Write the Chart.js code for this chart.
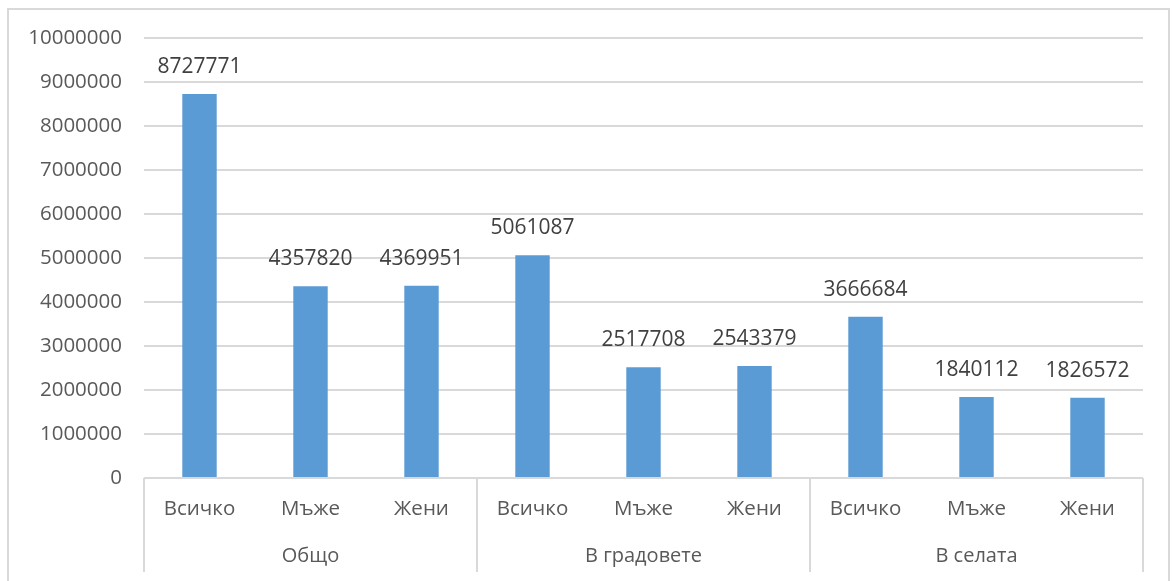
<!DOCTYPE html>
<html>
<head>
<meta charset="utf-8">
<script src="https://cdn.jsdelivr.net/npm/chart.js@4"></script>
<style>
  html, body { margin: 0; padding: 0; background: #fff; }
  #wrap { position: relative; width: 1173px; height: 581px; }
  #frame {
    position: absolute; left: 7px; top: 8px; width: 1163px; height: 580px;
    border: 2px solid #d9d9d9; border-bottom: none; box-sizing: border-box;
  }
  canvas { position: absolute; left: 0; top: 0; }
</style>
</head>
<body>
<div id="wrap">
  <div id="frame"></div>
  <canvas id="chart" width="1173" height="581"></canvas>
</div>
<script>
const groups = ["Общо", "В градовете", "В селата"];
const subLabels = ["Всичко", "Мъже", "Жени", "Всичко", "Мъже", "Жени", "Всичко", "Мъже", "Жени"];
const values = [8727771, 4357820, 4369951, 5061087, 2517708, 2543379, 3666684, 1840112, 1826572];
const yMax = 10000000;
const yStep = 1000000;

const FONT = "'Open Sans', 'Liberation Sans', sans-serif";
const GRID = "#d9d9d9";

// value labels above the bars
const valueLabels = {
  id: "valueLabels",
  afterDatasetsDraw(chart) {
    const ctx = chart.ctx;
    const meta = chart.getDatasetMeta(0);
    ctx.save();
    ctx.font = "21px " + FONT;
    ctx.fillStyle = "#404040";
    ctx.textAlign = "center";
    ctx.textBaseline = "middle";
    meta.data.forEach((bar, i) => {
      ctx.fillText(String(values[i]), bar.x, bar.y - 27);
    });
    ctx.restore();
  },
};

// second level of the category axis: dividers and group names
const groupAxis = {
  id: "groupAxis",
  afterDraw(chart) {
    const ctx = chart.ctx;
    const x = chart.scales.x;
    const area = chart.chartArea;
    const per = subLabels.length / groups.length;
    const half = (x.getPixelForValue(1) - x.getPixelForValue(0)) / 2;
    ctx.save();
    ctx.strokeStyle = GRID;
    ctx.lineWidth = 2;
    for (let g = 0; g <= groups.length; g++) {
      const idx = Math.min(g * per, subLabels.length - 1);
      const px = g * per >= subLabels.length ? x.getPixelForValue(idx) + half : x.getPixelForValue(idx) - half;
      ctx.beginPath();
      ctx.moveTo(Math.round(px), area.bottom);
      ctx.lineTo(Math.round(px), area.bottom + 94);
      ctx.stroke();
    }
    ctx.font = "20px " + FONT;
    ctx.fillStyle = "#595959";
    ctx.textAlign = "center";
    ctx.textBaseline = "middle";
    groups.forEach((name, g) => {
      const a = x.getPixelForValue(g * per) - half;
      const b = x.getPixelForValue(g * per + per - 1) + half;
      ctx.fillText(name, (a + b) / 2, area.bottom + 78);
    });
    ctx.restore();
  },
};

new Chart(document.getElementById("chart"), {
  type: "bar",
  data: {
    labels: subLabels,
    datasets: [{
      data: values,
      backgroundColor: "#5b9bd5",
      categoryPercentage: 1,
      barPercentage: 0.31,
    }],
  },
  options: {
    responsive: false,
    animation: false,
    events: [],
    layout: { padding: { left: 0, right: 30, top: 38, bottom: 0 } },
    plugins: { legend: { display: false }, tooltip: { enabled: false } },
    scales: {
      x: {
        grid: { display: false, drawTicks: false },
        border: { display: false },
        ticks: { color: "#595959", font: { family: FONT, size: 20.5 }, padding: 19, maxRotation: 0 },
        afterFit(scale) { scale.height = 103; },
      },
      y: {
        min: 0,
        max: yMax,
        grid: { color: GRID, lineWidth: 2, drawTicks: false },
        border: { display: false },
        ticks: {
          stepSize: yStep,
          color: "#595959",
          font: { family: FONT, size: 20.5 },
          padding: 22,
          callback: (v) => String(v),
        },
        afterFit(scale) { scale.width = 144; },
      },
    },
  },
  plugins: [valueLabels, groupAxis],
});
</script>
</body>
</html>
